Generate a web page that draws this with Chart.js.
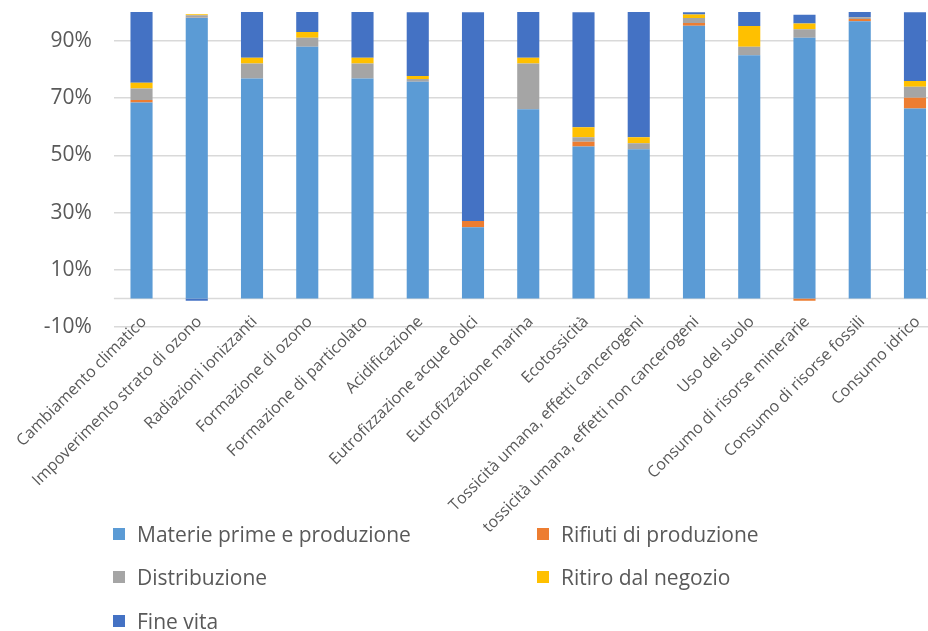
<!DOCTYPE html>
<html lang="it">
<head>
<meta charset="utf-8">
<title>Contributo per fase del ciclo di vita</title>
<script src="https://cdn.jsdelivr.net/npm/chart.js@4.4.1/dist/chart.umd.min.js"></script>
<style>
  html, body { margin: 0; padding: 0; background: #fff; overflow: hidden; }
  #wrap { position: relative; width: 946px; height: 631px; }
  #legend { position: absolute; left: 0; top: 0; width: 946px; height: 631px; pointer-events: none;
            font-family: "Open Sans", sans-serif; font-size: 21px; color: #595959; }
  .item { position: absolute; display: flex; align-items: center; white-space: nowrap; height: 28px; }
  .box { width: 12px; height: 12px; margin-right: 12px; }
</style>
</head>
<body>
<div id="wrap">
  <canvas id="chart" width="946" height="631"></canvas>
  <div id="legend"></div>
</div>
<script>
// Categorie d'impatto
const categories = [
  "Cambiamento climatico",
  "Impoverimento strato di ozono",
  "Radiazioni ionizzanti",
  "Formazione di ozono",
  "Formazione di particolato",
  "Acidificazione",
  "Eutrofizzazione acque dolci",
  "Eutrofizzazione marina",
  "Ecotossicità",
  "Tossicità umana, effetti cancerogeni",
  "tossicità umana, effetti non cancerogeni",
  "Uso del suolo",
  "Consumo di risorse minerarie",
  "Consumo di risorse fossili",
  "Consumo idrico"
];

// Contributo percentuale di ciascuna fase
const materiePrime  = [68.4, 98.0, 76.8, 87.9, 76.8, 75.7, 24.9, 66.1, 53.1, 52.1, 95.2, 84.9, 91.0, 96.8, 66.3];
const rifiuti       = [ 0.9,  0.1,  0.0,  0.0,  0.0,  0.0,  2.2,  0.0,  1.6,  0.0,  1.0,  0.0, -0.8,  0.8,  3.8];
const distribuzione = [ 4.0,  0.8,  5.2,  3.1,  5.2,  0.9,  0.0, 15.9,  1.6,  2.1,  1.7,  3.0,  3.0,  0.6,  3.8];
const ritiro        = [ 2.0,  0.3,  2.0,  2.0,  2.0,  1.1,  0.0,  2.0,  3.5,  2.1,  1.2,  7.2,  2.0,  0.0,  2.0];
const fineVita      = [24.7, -0.8, 16.0,  7.0, 16.0, 22.2, 72.8, 16.0, 40.1, 43.8,  0.8,  4.9,  3.0,  1.8, 24.0];

const seriesNames = ["Materie prime e produzione", "Rifiuti di produzione", "Distribuzione", "Ritiro dal negozio", "Fine vita"];
const yTicks = [-10, 10, 30, 50, 70, 90];

const colors = ["#5B9BD5", "#ED7D31", "#A5A5A5", "#FFC000", "#4472C4"];
const seriesData = [materiePrime, rifiuti, distribuzione, ritiro, fineVita];

const GRID = "#D9D9D9";
const TEXT = "#595959";

// Linea dello zero (asse delle categorie)
const zeroLine = {
  id: "zeroLine",
  beforeDatasetsDraw(chart) {
    const { ctx, chartArea, scales } = chart;
    const y = scales.y.getPixelForValue(0);
    ctx.save();
    ctx.strokeStyle = GRID;
    ctx.lineWidth = 1.5;
    ctx.beginPath();
    ctx.moveTo(chartArea.left, y);
    ctx.lineTo(chartArea.right, y);
    ctx.stroke();
    ctx.restore();
  }
};

// Etichette delle categorie ruotate di 45°, che possono salire poco sopra il bordo inferiore dell'area
const categoryLabels = {
  id: "categoryLabels",
  afterDraw(chart) {
    const { ctx, chartArea, scales } = chart;
    const x = scales.x;
    ctx.save();
    ctx.fillStyle = TEXT;
    ctx.font = '16px "Open Sans"';
    ctx.textAlign = "right";
    ctx.textBaseline = "middle";
    chart.data.labels.forEach((label, i) => {
      ctx.save();
      ctx.translate(x.getPixelForTick(i) + 2.5, chartArea.bottom - 8);
      ctx.rotate(-Math.PI / 4);
      ctx.fillText(label, 0, 0);
      ctx.restore();
    });
    ctx.restore();
  }
};

const chart = new Chart(document.getElementById("chart"), {
  type: "bar",
  data: {
    labels: categories,
    datasets: seriesData.map((d, i) => ({
      label: seriesNames[i],
      data: d,
      backgroundColor: colors[i],
      borderWidth: 0,
      categoryPercentage: 1,
      barPercentage: 0.4
    }))
  },
  options: {
    responsive: false,
    animation: false,
    layout: { padding: { top: 12, right: 3.4, left: 0, bottom: 0 } },
    plugins: {
      legend: { display: false },
      tooltip: { enabled: false }
    },
    scales: {
      x: {
        stacked: true,
        grid: { display: false, drawTicks: false },
        border: { display: false },
        ticks: { display: false, autoSkip: false },
        afterFit(scale) {
          scale.height = 631 - 327.2;
          scale.paddingLeft = 0;
          scale.paddingRight = 0;
        }
      },
      y: {
        stacked: true,
        min: -10,
        max: 100,
        grid: { color: GRID, lineWidth: 1.5, drawTicks: false },
        border: { display: false },
        afterBuildTicks(scale) {
          scale.ticks = yTicks.map(v => ({ value: v }));
        },
        ticks: {
          padding: 22,
          color: TEXT,
          font: { family: "Open Sans", size: 21 },
          callback: v => v + "%"
        },
        afterFit(scale) {
          scale.width = 113.9;
          scale.paddingTop = 0;
          scale.paddingBottom = 0;
        }
      }
    }
  },
  plugins: [zeroLine, categoryLabels]
});

// Legenda a due colonne
const legendPos = [
  { left: 113, top: 520 }, { left: 537, top: 520 },
  { left: 113, top: 563 }, { left: 537, top: 563 },
  { left: 113, top: 607 }
];
const legendEl = document.getElementById("legend");
chart.data.datasets.forEach((ds, i) => {
  const item = document.createElement("div");
  item.className = "item";
  item.style.left = legendPos[i].left + "px";
  item.style.top = legendPos[i].top + "px";
  const box = document.createElement("span");
  box.className = "box";
  box.style.background = ds.backgroundColor;
  const txt = document.createElement("span");
  txt.textContent = ds.label;
  item.appendChild(box);
  item.appendChild(txt);
  legendEl.appendChild(item);
});
</script>
</body>
</html>
